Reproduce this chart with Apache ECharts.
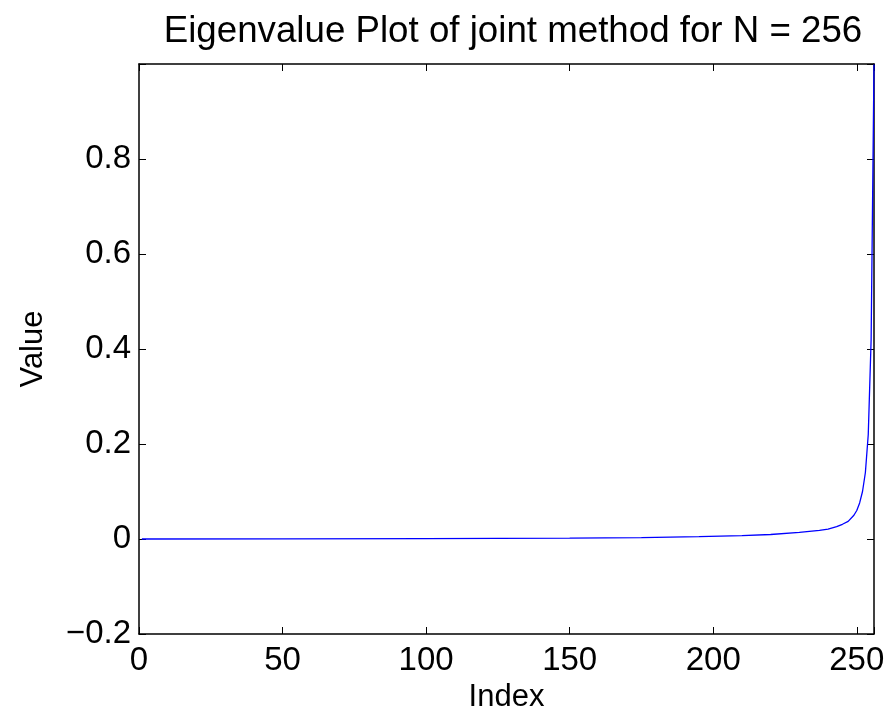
<!DOCTYPE html>
<html>
<head>
<meta charset="utf-8">
<script src="https://cdn.jsdelivr.net/npm/echarts@6/dist/echarts.min.js"></script>
<style>
html, body { margin: 0; padding: 0; background: #fff; }
#container { width: 892px; height: 719px; }
</style>
</head>
<body>
<div id="container"></div>
<script>
// eigenvalues (index, value)
var idx    = [1, 50, 100, 150, 175, 195, 210, 220, 230, 237, 240, 243, 245, 247, 249, 250, 251, 252, 253, 254, 255, 256];
var values = [0.0, 0.0003, 0.0008, 0.002, 0.003, 0.005, 0.007, 0.0095, 0.014, 0.018, 0.021, 0.026, 0.031, 0.037, 0.05, 0.06, 0.076, 0.1, 0.14, 0.22, 0.42, 0.999];

var titleText = 'Eigenvalue Plot of joint method for N = 256';
var xName = 'Index';
var yName = 'Value';

var data = [];
for (var i in idx) {
    data.push([idx[i], values[i]]);
}

var dom   = document.getElementById("container");
var chart = echarts.init(dom, null, {renderer: 'canvas'});

var font = 'Liberation Sans, Arial, Helvetica, sans-serif';
var tickStyle = {show: true, inside: true, length: 7, lineStyle: {color: '#000', width: 1}};
var lineStyle = {show: true, onZero: false, lineStyle: {color: '#000', width: 1.5}};

option = {
    backgroundColor: '#fff',
    animation: false,
    title: {
        text: titleText,
        left: 508,
        top: 8,
        textAlign: 'center',
        textStyle: {fontFamily: font, fontSize: 36.7, fontWeight: 'normal', color: '#000'}
    },
    grid: {
        left: 139,
        right: 18,
        top: 64,
        bottom: 85,
        containLabel: false
    },
    xAxis: [
        {
            type: 'value',
            min: 0,
            max: 256,
            interval: 50,
            position: 'bottom',
            name: xName,
            nameLocation: 'middle',
            nameGap: 47,
            nameTextStyle: {fontFamily: font, fontSize: 31, color: '#000'},
            axisLine: lineStyle,
            axisTick: tickStyle,
            splitLine: {show: false},
            axisLabel: {
                fontFamily: font, fontSize: 33, color: '#000', margin: 10,
                showMaxLabel: true,
                formatter: function (v) { return v % 50 === 0 ? String(v) : ''; }
            }
        },
        {
            type: 'value',
            min: 0,
            max: 256,
            interval: 50,
            position: 'top',
            axisLine: lineStyle,
            axisTick: tickStyle,
            splitLine: {show: false},
            axisLabel: {show: false}
        }
    ],
    yAxis: [
        {
            type: 'value',
            min: -0.2,
            max: 1,
            interval: 0.2,
            position: 'left',
            name: yName,
            nameLocation: 'middle',
            nameGap: 90,
            nameRotate: 90,
            nameTextStyle: {fontFamily: font, fontSize: 31, color: '#000'},
            axisLine: lineStyle,
            axisTick: tickStyle,
            splitLine: {show: false},
            axisLabel: {
                fontFamily: font, fontSize: 33, color: '#000', margin: 8,
                formatter: function (v) {
                    var r = Math.round(v * 10) / 10;
                    if (r >= 1) return '';
                    if (r === 0) return '0';
                    return (r < 0 ? '\u2212' : '') + Math.abs(r).toFixed(1);
                }
            }
        },
        {
            type: 'value',
            min: -0.2,
            max: 1,
            interval: 0.2,
            position: 'right',
            axisLine: lineStyle,
            axisTick: tickStyle,
            splitLine: {show: false},
            axisLabel: {show: false}
        }
    ],
    series: [
        {
            name: yName,
            type: 'line',
            data: data,
            showSymbol: false,
            symbol: 'none',
            smooth: false,
            lineStyle: {color: '#0000ff', width: 1.3},
            xAxisIndex: 0,
            yAxisIndex: 0
        }
    ]
};

chart.setOption(option, true);
</script>
</body>
</html>
